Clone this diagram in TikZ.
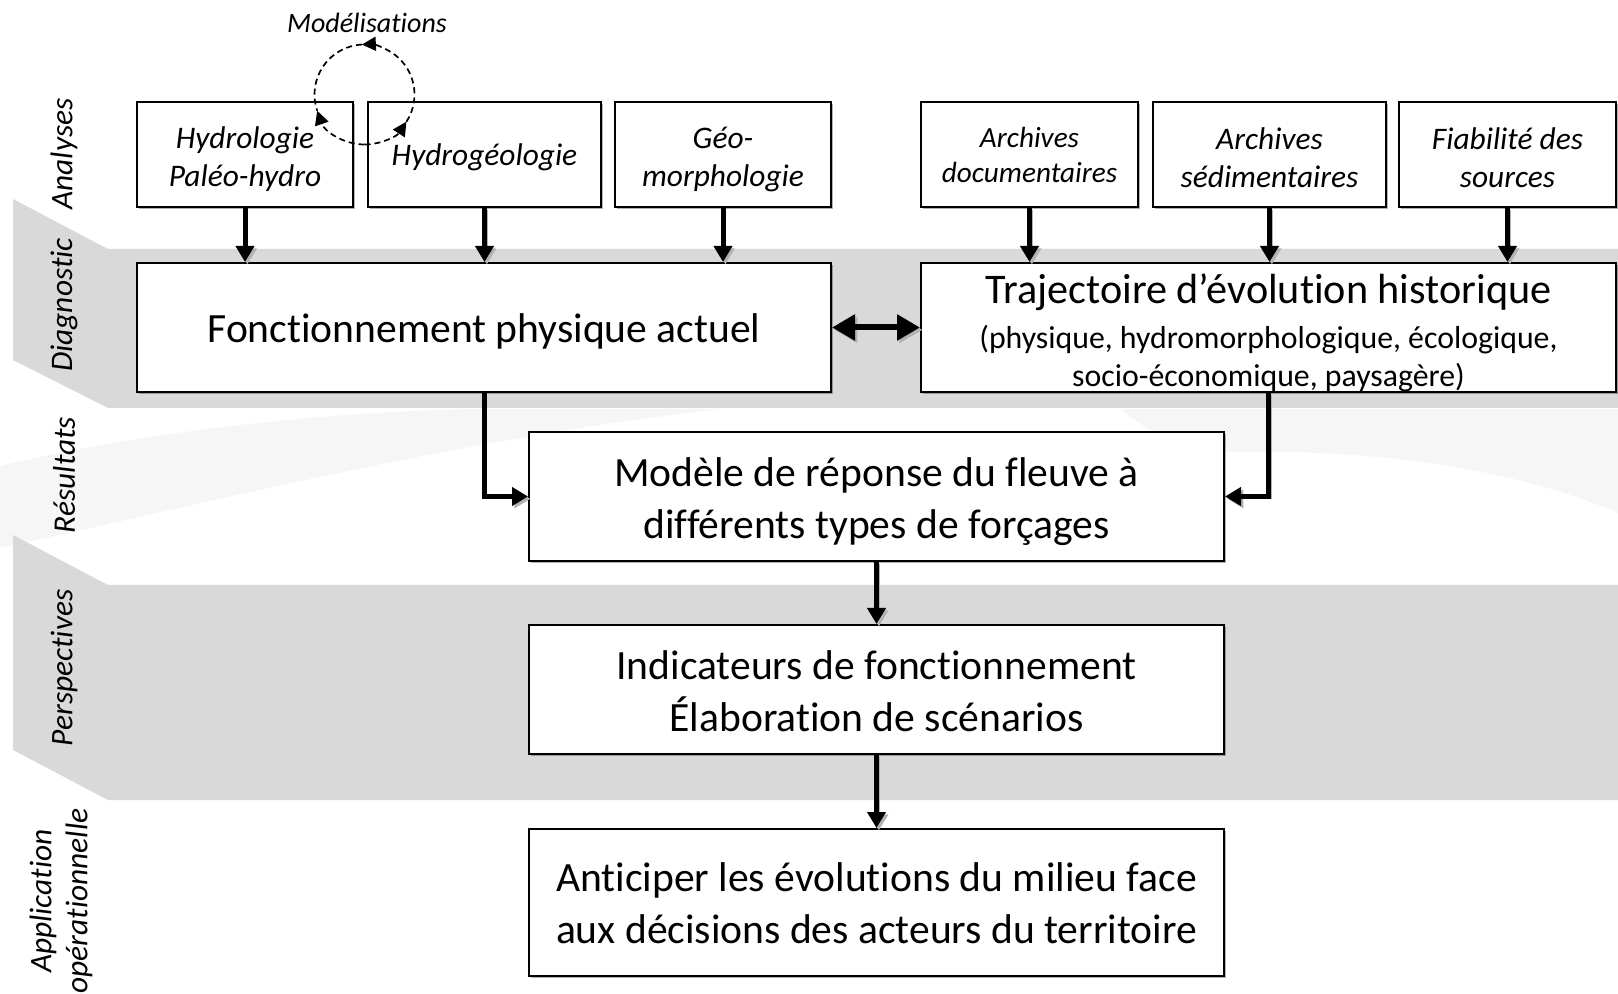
\documentclass[tikz,border=0pt]{standalone}
\usepackage{fontspec}
\setmainfont{Carlito}[Ligatures={NoCommon}]
\usetikzlibrary{arrows.meta,shadows,calc}
\newcommand\mytrajtxt{\centering\spaceskip=0pt\xspaceskip=0pt
   {\fontsize{21.1}{23}\selectfont Trajectoire d’évolution historique\par}
   {\fontsize{15.9}{22.5}\selectfont (physique, hydromorphologique, écologique,\par}
   {\fontsize{15.9}{19}\selectfont socio-économique, paysagère)\par}}
\begin{document}
\begin{tikzpicture}[x=0.5pt,y=-0.5pt,
  band/.style={fill=black!15, draw=none},
  faint/.style={fill=black!3.5, draw=none},
  box/.style={draw=black, line width=1pt, fill=white, inner sep=0pt,
    drop shadow={shadow xshift=1.2pt, shadow yshift=-1.2pt, opacity=0.3, fill=black}},
  smallbox/.style={box, minimum height=52.5pt},
  smalltxt/.style={align=center, inner sep=0pt, yshift=-1.5pt, font=\fontsize{15.7}{19}\selectfont\itshape},
  bigbox/.style={box, minimum width=347.5pt, minimum height=64.5pt},
  bigtxt/.style={align=center, inner sep=0pt, yshift=-2pt, font=\fontsize{20.8}{25.8}\selectfont},
  phase/.style={rotate=90, align=center, font=\fontsize{15.7}{18}\selectfont\itshape},
  shadowed/.style={preaction={draw=black!30, transform canvas={shift={(1.2pt,-1.2pt)}}}},
  arr/.style={line width=2.5pt, -{Triangle[length=8pt,width=9pt]}, shadowed},
  dbl/.style={line width=3pt, {Triangle[length=11.5pt,width=12.5pt]}-{Triangle[length=11.5pt,width=12.5pt]}, shadowed},
  dsh/.style={line width=0.85pt, dash pattern=on 3pt off 2pt},
  dtip/.style={-{Triangle[length=7pt,width=7pt]}}
]
\useasboundingbox (0,0) rectangle (1618,994);

% background bands
\path[faint] (0,466) .. controls (150,430) and (330,412) .. (470,409) -- (720,409)
  .. controls (450,440) and (200,505) .. (0,548) -- cycle;
\path[faint] (1120,409) -- (1618,409) -- (1618,513) .. controls (1500,462) and (1350,450) .. (1240,452)
  .. controls (1180,452) and (1150,432) .. (1120,409) -- cycle;
\path[band] (13,199) -- (108,249) -- (1618,249) -- (1618,408) -- (108,408) -- (13,360) -- cycle;
\path[band] (13,535) -- (108,585) -- (1618,585) -- (1618,800) -- (108,800) -- (13,750) -- cycle;

% phase labels
\node[phase] (lanal) at (64,154) {Analyses};
\node[phase] (ldiag) at (64,305) {Diagnostic};
\node[phase] (lres) at (64,475) {Résultats};
\node[phase] (lpers) at (64,668) {Perspectives};
\node[phase] (lappl) at (61,901) {Application\\opérationnelle};

% top boxes
\node[smallbox, minimum width=108pt, label={[smalltxt, yshift=-1pt]center:Hydrologie\\Paléo-hydro}] (hyd) at (245,154.5) {};
\node[smallbox, minimum width=116.5pt, label={[smalltxt]center:Hydrogéologie}] (hgeo) at (484.5,154.5) {};
\node[smallbox, minimum width=108pt, label={[smalltxt, yshift=-1pt]center:Géo-\\morphologie}] (geo) at (723,154.5) {};
\node[smallbox, minimum width=108.5pt, label={[smalltxt, yshift=1.5pt, font=\fontsize{14.6}{17.5}\selectfont\itshape]center:Archives\\documentaires}] (adoc) at (1029.5,154.5) {};
\node[smallbox, minimum width=116.5pt, label={[smalltxt]center:Archives\\sédimentaires}] (ased) at (1269.5,154.5) {};
\node[smallbox, minimum width=108.5pt, label={[smalltxt]center:Fiabilité des\\sources}] (fiab) at (1507.5,154.5) {};

% main boxes
\node[bigbox, minimum width=347pt, label={[bigtxt]center:Fonctionnement physique actuel}] (fonc) at (484,327.5) {};
\node[bigbox, label={[bigtxt, text width=345pt, yshift=-0.5pt]center:\mytrajtxt}] (traj) at (1268.5,327.5) {};
\node[bigbox, label={[bigtxt, yshift=-0.5pt]center:Modèle de réponse du fleuve à\\différents types de forçages}] (mod) at (876.5,496.5) {};
\node[bigbox, label={[bigtxt, yshift=1pt]center:Indicateurs de fonctionnement\\Élaboration de scénarios}] (ind) at (876.5,689.5) {};
\node[bigbox, minimum height=73.5pt, label={[bigtxt, yshift=1.5pt]center:Anticiper les évolutions du milieu face\\aux décisions des acteurs du territoire}] (ant) at (876.5,902.5) {};

% connectors
\draw[arr] (hyd.south) -- (hyd.south |- fonc.north);
\draw[arr] (hgeo.south) -- (hgeo.south |- fonc.north);
\draw[arr] (geo.south) -- (geo.south |- fonc.north);
\draw[arr] (adoc.south) -- (adoc.south |- traj.north);
\draw[arr] (ased.south) -- (ased.south |- traj.north);
\draw[arr] (fiab.south) -- (fiab.south |- traj.north);
\draw[dbl] (fonc.east) -- (traj.west);
\draw[arr] (fonc.south) |- (mod.west);
\draw[arr] (traj.south) |- (mod.east);
\draw[arr] (mod.south) -- (ind.north);
\draw[arr] (ind.south) -- (ant.north);

% modelisation loop
\coordinate (mc) at (364.5,94.5);
\node[font=\fontsize{14}{16}\selectfont\itshape] (modl) at (367,23) {Modélisations};
\draw[dsh, dtip] ($(mc)+(270:25pt)$) arc[start angle=270, end angle=199, radius=25pt];
\draw[dsh, dtip] ($(mc)+(270:25pt)$) arc[start angle=270, end angle=327, radius=25pt];
\draw[dsh, dtip] ($(mc)+(327:25pt)$) arc[start angle=-33, end angle=93, radius=25pt];
\draw[dsh] ($(mc)+(93:25pt)$) arc[start angle=93, end angle=199, radius=25pt];
\end{tikzpicture}
\end{document}
